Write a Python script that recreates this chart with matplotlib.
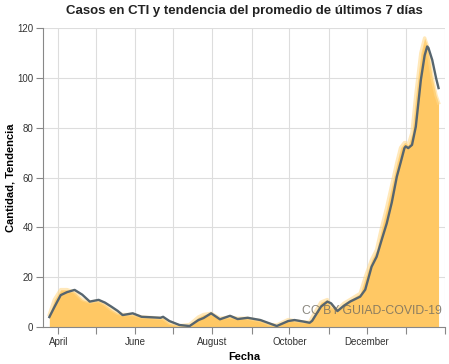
import matplotlib
matplotlib.use("Agg")
import matplotlib.pyplot as plt
import matplotlib.dates as mdates
import pandas as pd

# fechas y valores
fechas = ["2020-03-25", "2020-03-29", "2020-04-03", "2020-04-08", "2020-04-14", "2020-04-20",
          "2020-04-26", "2020-05-03", "2020-05-08", "2020-05-13", "2020-05-18", "2020-05-22",
          "2020-05-30", "2020-06-06", "2020-06-14", "2020-06-21", "2020-06-23", "2020-06-28",
          "2020-07-06", "2020-07-14", "2020-07-21", "2020-07-25", "2020-07-31", "2020-08-07",
          "2020-08-15", "2020-08-21", "2020-08-29", "2020-09-08", "2020-09-15", "2020-09-21",
          "2020-09-30", "2020-10-05", "2020-10-12", "2020-10-17", "2020-10-19", "2020-10-26",
          "2020-10-31", "2020-11-03", "2020-11-08", "2020-11-13", "2020-11-18", "2020-11-26",
          "2020-11-30", "2020-12-05", "2020-12-09", "2020-12-13", "2020-12-17", "2020-12-21",
          "2020-12-25", "2020-12-28", "2020-12-31", "2021-01-01", "2021-01-03", "2021-01-06",
          "2021-01-09", "2021-01-13", "2021-01-16", "2021-01-18", "2021-01-19", "2021-01-22",
          "2021-01-25", "2021-01-27"]

casos = [5, 11, 15, 15, 14, 11,
         10, 10.5, 9, 7, 5.5, 5,
         5, 4, 3.8, 3.5, 3.5, 1.5,
         0.5, 1, 4, 5, 5.5, 3.5,
         4, 3.5, 3.5, 2.5, 1, 0.8,
         3, 2.5, 2, 2, 4, 10,
         11, 8, 7, 9.5, 11, 13.5,
         20, 27, 31, 40, 48, 57,
         66, 72, 74, 74, 73, 78,
         93, 110, 116, 113, 110, 100,
         93, 90]

tendencia = [4, 8, 12.8, 14, 14.9, 13,
             10.2, 10.9, 9.8, 8.2, 6.5, 4.8,
             5.5, 4.1, 3.9, 3.7, 4.1, 2.4,
             0.8, 0.4, 2.8, 3.6, 5.5, 3.1,
             4.5, 3.2, 3.7, 2.8, 1.5, 0.4,
             2.4, 2.8, 2.2, 1.7, 2.5, 8.2,
             10.2, 9.5, 6.4, 8.5, 10.2, 12.2,
             15, 24.2, 28.2, 35, 41.6, 50,
             60.4, 66, 71.8, 72.5, 71.8, 73.1,
             80.4, 99.2, 109, 112.6, 112, 107.2,
             100, 95.9]

x = pd.to_datetime(fechas)

plt.rcParams['font.family'] = ['Liberation Sans', 'DejaVu Sans']

fig = plt.figure(figsize=(4.49, 3.64), dpi=100)
ax = fig.add_axes([0.0958, 0.1016, 0.895, 0.8214])

# area de casos diarios con un borde difuso
ax.fill_between(x, 0, casos, color='#FFC864', linewidth=0, zorder=2)
ax.plot(x, casos, color='#FFD98C', linewidth=2.5, alpha=0.6, zorder=2)
ax.plot(x, tendencia, color='#56656F', linewidth=1.7, zorder=3)

ax.set_xlim(pd.Timestamp("2020-03-20"), pd.Timestamp("2021-02-01"))
ax.set_ylim(0, 120)
ax.set_yticks(range(0, 121, 20))

ax.xaxis.set_major_locator(mdates.MonthLocator(bymonth=[4, 6, 8, 10, 12]))
ax.xaxis.set_major_formatter(mdates.DateFormatter('%B'))
ax.xaxis.set_minor_locator(mdates.MonthLocator())

ax.grid(True, which='both', axis='x', color='#DDDDDD', linewidth=0.8, zorder=0)
ax.grid(True, which='major', axis='y', color='#DDDDDD', linewidth=0.8, zorder=0)
ax.set_axisbelow(True)

for s in ['top', 'right']:
    ax.spines[s].set_visible(False)
for s in ['left', 'bottom']:
    ax.spines[s].set_color('#888888')
    ax.spines[s].set_linewidth(0.8)

ax.tick_params(axis='both', which='both', colors='#888888', labelcolor='#333333',
               labelsize=7, length=5, width=0.8, pad=2)

ax.set_xlabel('Fecha', fontsize=8, fontweight='bold')
ax.xaxis.set_label_coords(0.5, -0.085)
ax.set_ylabel('Cantidad, Tendencia', fontsize=8, fontweight='bold')
ax.yaxis.set_label_coords(-0.068, 0.5)
fig.suptitle('Casos en CTI y tendencia del promedio de últimos 7 días',
             x=0.545, y=0.985, fontsize=9.5, fontweight='bold', color='#222222')

ax.text(0.993, 0.033, 'CC BY GUIAD-COVID-19', transform=ax.transAxes,
        ha='right', va='bottom', fontsize=8.8, color='#6E6A60', alpha=0.8, zorder=4)

fig.savefig('out.png', dpi=100)
